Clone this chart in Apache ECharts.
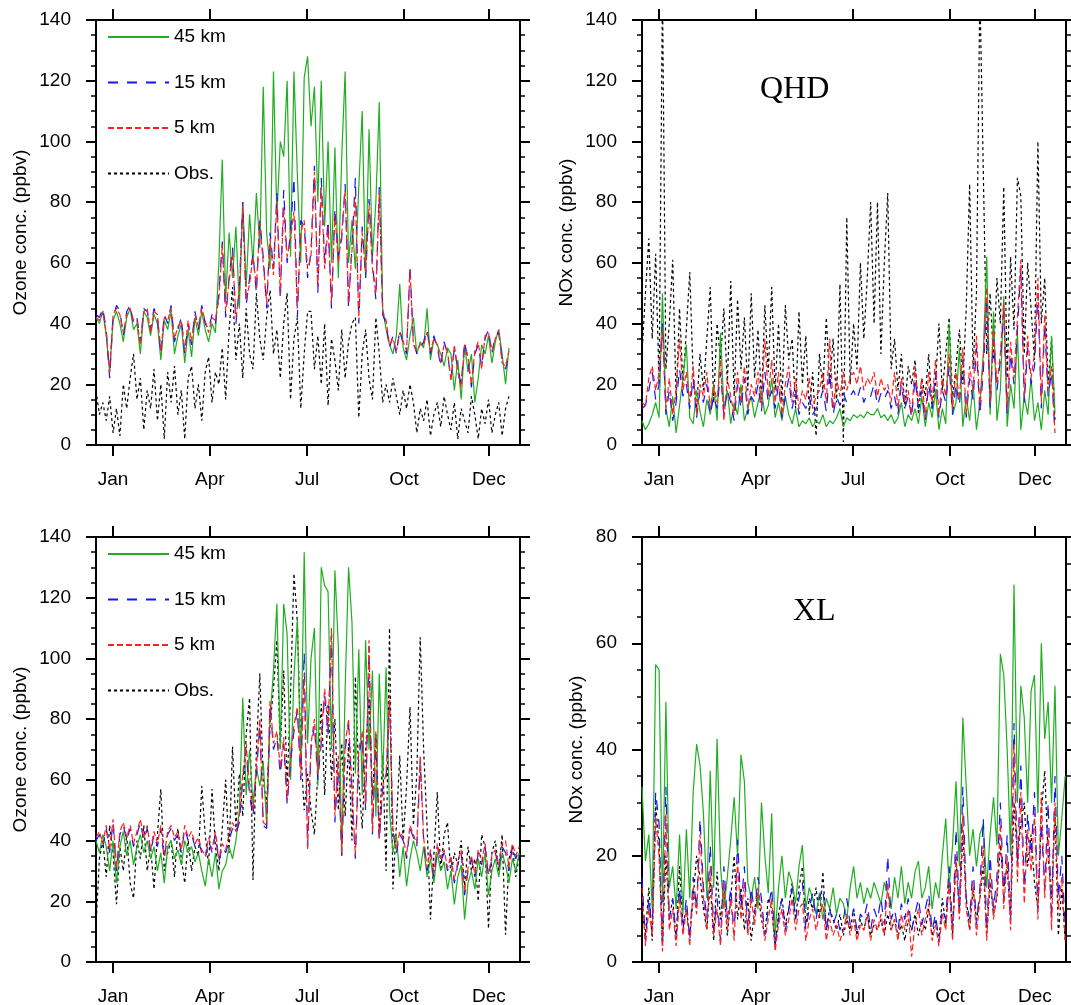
<!DOCTYPE html>
<html>
<head>
<meta charset="utf-8">
<script src="https://cdn.jsdelivr.net/npm/echarts@6/dist/echarts.min.js"></script>
<style>
    html, body {margin: 0; padding: 0; background: #fff;}
    #main {width: 1071px; height: 1005px;}
</style>
</head>
<body>
<div id="main"></div>
<script>
// one value every 3 days
const dayStep = 3;
const monthTicks = [15, 100, 185.5, 270.7, 345.4];
const monthLabels = ['Jan', 'Apr', 'Jul', 'Oct', 'Dec'];

// QHD ozone (top left)
const qhdO3_45km = [42, 40, 44, 36, 24, 41, 44, 40, 34, 42, 45, 38, 40, 30, 44, 42, 36, 43, 40, 28, 41, 38, 44, 30, 36, 40, 27, 38, 29, 42, 36, 44, 38, 34, 40, 37,
    60, 94, 48, 70, 55, 72, 45, 80, 52, 76, 60, 83, 65, 118, 70, 58, 123, 75, 100, 95, 120, 62, 123, 89, 60, 121, 128, 105, 118, 80, 120, 72, 100, 60, 98, 55, 95,
    123, 60, 74, 58, 85, 110, 55, 104, 62, 80, 113, 45,
    38, 33, 30, 36, 53, 32, 28, 36, 42, 30, 34, 32, 45, 28, 35, 33, 30, 26, 32, 30, 18, 28, 15, 33, 24, 30, 14, 22, 33, 30, 36, 27, 34, 38, 30, 20, 32];
const qhdO3_15km = [43, 42, 45, 38, 22, 42, 46, 44, 36, 44, 46, 40, 42, 34, 45, 44, 38, 45, 42, 30, 43, 40, 46, 34, 38, 42, 30, 40, 33, 44, 38, 46, 40, 38, 43, 40,
    50, 67, 42, 55, 65, 40, 52, 80, 46, 55, 63, 50, 74, 62, 45, 70, 58, 83, 48, 84, 60, 70, 88, 42, 74, 72, 55, 64, 92, 50, 88, 60, 74, 45, 78, 62, 68, 86, 45, 66, 88, 40, 72, 55, 81, 60, 48, 85, 43,
    40, 32, 36, 30, 38, 33, 30, 59, 34, 30, 32, 34, 38, 30, 36, 32, 26, 34, 30, 22, 32, 25, 20, 34, 28, 19, 30, 33, 26, 35, 38, 30, 36, 37, 28, 25, 30];
const qhdO3_5km = [42, 41, 44, 37, 24, 43, 45, 43, 37, 43, 45, 41, 41, 33, 44, 45, 37, 44, 43, 31, 42, 41, 45, 35, 39, 41, 31, 41, 34, 43, 39, 45, 41, 37, 42, 41,
    48, 66, 44, 54, 63, 42, 50, 79, 48, 53, 62, 52, 73, 60, 47, 68, 56, 80, 50, 78, 62, 68, 77, 45, 70, 74, 58, 62, 90, 52, 85, 58, 72, 47, 76, 60, 70, 84, 47, 64, 82, 42, 70, 57, 79, 58, 50, 83, 44,
    41, 33, 35, 31, 37, 34, 31, 58, 33, 31, 33, 33, 37, 31, 35, 33, 27, 33, 31, 21, 33, 24, 19, 33, 29, 20, 31, 34, 25, 36, 37, 31, 35, 38, 27, 26, 31];
const qhdO3_obs = [18, 10, 14, 8, 16, 4, 12, 3, 20, 12, 22, 30, 15, 22, 5, 18, 12, 25, 8, 20, 2, 24, 14, 26, 10, 18, 2, 22, 26, 12, 20, 8, 24, 29, 14, 24,
    20, 32, 15, 38, 52, 28, 40, 22, 45, 30, 25, 50, 35, 28, 42, 51, 30, 38, 22, 40, 50, 15, 35, 42, 12, 30, 44, 44, 25, 36, 20, 40, 13, 35, 28, 18, 38, 22, 34, 40, 42, 9, 30, 38, 22, 15, 42, 30, 14,
    20, 14, 22, 16, 10, 18, 12, 20, 14, 4, 12, 8, 15, 3, 10, 14, 6, 16, 10, 5, 14, 2, 12, 8, 4, 16, 10, 2, 12, 7, 15, 4, 10, 14, 3, 12, 16];

// QHD NOx (top right)
const qhdNOx_45km = [8, 5, 7, 10, 14, 9, 50, 12, 6, 16, 4, 13, 22, 33, 9, 7, 18, 11, 6, 15, 10, 20, 8, 37, 12, 18, 7, 14, 10, 20, 8, 12, 16, 9, 14, 18, 10, 13, 22, 9,
    14, 8, 16, 10, 7, 12, 6, 8, 7, 9, 6, 8, 7, 10, 6, 8, 7, 9, 12, 6, 9, 8, 10, 9, 10, 9, 11, 10, 10, 12, 9, 10, 8, 10, 7, 9, 14, 6, 10, 8,
    12, 7, 16, 6, 14, 9, 18, 5, 12, 7, 40, 10, 14, 32, 6, 16, 8, 20, 5, 14, 30, 62, 10, 44, 8, 18, 49, 6, 20, 12, 37, 5, 16, 10, 22, 8, 14, 5, 18, 10, 36, 11];
const qhdNOx_15km = [12, 13, 18, 24, 15, 20, 40, 10, 18, 8, 14, 25, 16, 20, 12, 22, 9, 18, 14, 20, 10, 16, 12, 24, 10, 18, 14, 8, 20, 12, 22, 10, 16, 14, 20, 11, 24, 14, 18, 12,
    20, 9, 16, 22, 12, 18, 10, 14, 12, 16, 10, 12, 14, 18, 11, 24, 10, 16, 13, 17, 14, 16, 18, 15, 19, 14, 17, 16, 20, 13, 17, 15, 18, 12, 16, 10, 20, 12, 16, 9,
    22, 12, 18, 8, 20, 12, 24, 9, 18, 14, 26, 10, 20, 13, 28, 9, 22, 15, 32, 10, 24, 48, 12, 35, 18, 28, 44, 10, 30, 20, 38, 58, 14, 32, 20, 26, 50, 12, 40, 16, 24, 4];
const qhdNOx_5km = [14, 13, 22, 26, 18, 24, 38, 12, 22, 10, 18, 35, 18, 24, 14, 26, 10, 20, 16, 24, 12, 20, 14, 28, 8, 22, 16, 10, 24, 14, 26, 12, 20, 16, 24, 13, 35, 16, 28, 14,
    24, 10, 20, 26, 14, 22, 12, 18, 15, 22, 12, 16, 18, 24, 14, 35, 12, 22, 16, 24, 18, 22, 24, 20, 26, 18, 22, 20, 24, 16, 22, 18, 20, 14, 24, 12, 22, 14, 18, 10,
    26, 14, 22, 9, 24, 14, 28, 10, 22, 16, 30, 12, 24, 15, 32, 10, 26, 18, 36, 12, 28, 52, 14, 38, 20, 30, 47, 12, 34, 22, 42, 61, 16, 36, 22, 30, 55, 14, 43, 18, 26, 4];
const qhdNOx_obs = [30, 50, 68, 35, 63, 20, 150, 25, 40, 61, 15, 45, 20, 38, 57, 22, 12, 30, 18, 35, 52, 14, 40, 28, 45, 20, 54, 16, 48, 25, 42, 18, 50, 22, 38, 15, 46, 24, 52, 18,
    40, 14, 46, 28, 35, 12, 44, 20, 36, 10, 24, 3, 30, 18, 42, 20, 35, 14, 53, 1, 75, 20, 40, 25, 60, 35, 55, 80, 40, 80, 30, 60, 83, 25, 35, 18, 30, 12, 26, 20,
    28, 10, 22, 16, 30, 12, 20, 40, 18, 30, 42, 15, 26, 38, 20, 45, 86, 25, 50, 150, 90, 30, 50, 28, 55, 40, 85, 22, 62, 38, 88, 82, 30, 60, 45, 28, 100, 40, 55, 20, 35, 8];

// XL ozone (bottom left)
const xlO3_45km = [40, 36, 42, 38, 30, 40, 26, 38, 43, 35, 40, 32, 38, 42, 36, 40, 34, 38, 30, 36, 26, 38, 40, 34, 37, 32, 40, 36, 38, 33, 36, 30, 25, 34, 28, 36, 24, 30, 32, 38, 34, 40,
    50, 87, 55, 70, 52, 64, 58, 66, 45, 80, 96, 118, 70, 118, 108, 60, 94, 113, 64, 135, 72, 100, 110, 58, 130, 124, 122, 70, 129, 104, 35, 90, 130, 112, 62, 103, 55, 106, 70, 96, 48, 95, 60, 97, 50,
    36, 42, 28, 38, 25, 34, 40, 36, 30, 38, 28, 34, 26, 36, 30, 33, 24, 30, 19, 28, 32, 14, 26, 30, 24, 34, 28, 36, 22, 30, 34, 28, 36, 32, 26, 34, 30, 36];
const xlO3_15km = [40, 42, 38, 44, 36, 46, 30, 42, 45, 40, 44, 38, 42, 46, 40, 44, 36, 42, 38, 44, 34, 42, 44, 40, 42, 36, 44, 40, 42, 38, 40, 36, 34, 40, 36, 42, 33, 38, 36, 40, 44, 42,
    46, 60, 70, 55, 48, 62, 78, 45, 44, 85, 70, 74, 62, 72, 52, 66, 76, 83, 60, 102, 38, 70, 78, 60, 72, 88, 75, 108, 46, 66, 35, 70, 78, 55, 34, 68, 74, 50, 104, 42, 74, 40, 57, 60, 86,
    43, 36, 42, 40, 34, 44, 41, 38, 66, 40, 30, 36, 28, 38, 33, 36, 30, 34, 26, 32, 36, 22, 30, 34, 28, 36, 32, 38, 28, 34, 36, 31, 38, 36, 30, 38, 34, 37];
const xlO3_5km = [41, 43, 39, 45, 37, 47, 31, 43, 46, 41, 45, 39, 43, 47, 41, 45, 37, 43, 39, 45, 35, 43, 45, 41, 43, 37, 45, 41, 43, 39, 41, 37, 35, 41, 37, 43, 34, 39, 37, 42, 46, 43,
    48, 62, 72, 57, 50, 64, 80, 46, 45, 86, 72, 76, 64, 74, 53, 68, 78, 84, 62, 95, 37, 72, 80, 62, 74, 90, 77, 110, 48, 68, 36, 72, 80, 57, 35, 70, 76, 52, 106, 43, 76, 41, 58, 62, 88,
    44, 37, 43, 41, 35, 45, 42, 39, 68, 41, 31, 37, 29, 39, 34, 37, 31, 35, 27, 33, 37, 23, 31, 35, 29, 37, 33, 39, 29, 35, 37, 32, 39, 40, 31, 39, 35, 38];
const xlO3_obs = [12, 34, 40, 28, 45, 36, 19, 38, 30, 42, 26, 21, 40, 34, 45, 30, 38, 24, 42, 57, 30, 36, 40, 28, 44, 34, 26, 40, 30, 38, 35, 58, 42, 32, 57, 38, 30, 44, 60, 36, 71, 44,
    62, 48, 75, 87, 27, 70, 95, 60, 52, 78, 90, 106, 70, 96, 58, 88, 128, 112, 70, 50, 62, 50, 42, 62, 85, 55, 85, 60, 80, 50, 72, 48, 72, 40, 94, 60, 44, 70, 87, 55, 75, 42, 68, 30, 110,
    24, 45, 68, 40, 58, 84, 45, 62, 107, 70, 45, 14, 35, 56, 30, 42, 46, 28, 36, 32, 40, 25, 38, 30, 34, 20, 42, 38, 11, 36, 40, 30, 42, 9, 34, 38, 28, 35];

// XL NOx (bottom right)
const xlNOx_45km = [33, 19, 24, 10, 56, 55, 11, 49, 14, 18, 10, 24, 9, 25, 12, 32, 41, 37, 28, 12, 36, 14, 42, 18, 10, 16, 23, 31, 20, 39, 34, 15, 12, 16, 10, 30, 20, 13, 28, 5,
    14, 20, 12, 17, 15, 11, 18, 22, 10, 14, 12, 9, 13, 8, 12, 10, 14, 9, 12, 11, 8, 14, 18, 12, 15, 11, 14, 12, 15, 13, 11, 15, 13, 10, 16, 12, 18, 11, 15, 12,
    17, 19, 12, 14, 18, 10, 15, 12, 20, 27, 14, 22, 34, 18, 46, 33, 20, 25, 18, 24, 26, 14, 24, 31, 22, 58, 54, 40, 20, 71, 30, 52, 46, 30, 51, 54, 28, 60, 42, 49, 30, 52, 20, 27, 35];
const xlNOx_15km = [16, 4, 12, 6, 32, 26, 3, 33, 8, 12, 5, 14, 6, 12, 4, 16, 10, 27, 14, 8, 22, 6, 12, 4, 18, 8, 14, 5, 23, 10, 18, 6, 14, 9, 16, 12, 5, 10, 14, 3,
    8, 12, 6, 10, 14, 8, 12, 15, 6, 10, 13, 8, 12, 14, 6, 10, 7, 9, 6, 8, 12, 7, 10, 6, 9, 8, 11, 6, 10, 8, 12, 7, 20, 8, 10, 6, 11, 8, 12, 6,
    9, 12, 7, 10, 13, 6, 9, 4, 10, 8, 18, 6, 25, 10, 33, 12, 8, 18, 7, 14, 27, 6, 20, 10, 16, 30, 12, 24, 8, 45, 18, 37, 14, 28, 20, 32, 10, 26, 14, 30, 8, 35, 12, 20, 6];
const xlNOx_5km = [14, 3, 10, 5, 27, 20, 2, 28, 6, 10, 3, 12, 5, 10, 3, 14, 9, 24, 12, 6, 18, 5, 10, 3, 15, 6, 12, 4, 19, 8, 15, 5, 12, 7, 14, 10, 4, 8, 12, 2,
    7, 10, 5, 8, 12, 6, 10, 11, 4, 8, 10, 6, 9, 11, 4, 8, 5, 7, 4, 6, 9, 5, 8, 4, 7, 6, 9, 4, 8, 6, 9, 5, 15, 6, 8, 4, 9, 6, 10, 1,
    7, 10, 5, 8, 11, 4, 7, 3, 9, 6, 15, 4, 20, 8, 28, 10, 6, 15, 5, 12, 22, 4, 17, 8, 13, 26, 10, 20, 6, 41, 15, 32, 11, 25, 17, 28, 8, 32, 12, 25, 6, 30, 10, 16, 4];
const xlNOx_obs = [10, 5, 14, 4, 30, 22, 3, 20, 8, 12, 4, 18, 7, 10, 5, 12, 20, 16, 10, 6, 15, 4, 17, 8, 14, 5, 12, 20, 8, 14, 6, 12, 4, 10, 13, 8, 5, 12, 10, 3,
    9, 12, 7, 10, 15, 8, 14, 18, 7, 12, 10, 14, 8, 17, 6, 10, 8, 6, 9, 5, 8, 6, 10, 5, 8, 6, 9, 5, 7, 6, 8, 5, 9, 6, 8, 5, 7, 4, 8, 6,
    9, 5, 8, 6, 10, 5, 8, 4, 12, 7, 16, 5, 20, 9, 24, 12, 6, 14, 8, 12, 18, 5, 15, 9, 12, 22, 14, 18, 8, 30, 20, 26, 30, 18, 24, 15, 10, 28, 36, 20, 12, 28, 5, 14, 4];

const X_MAX = 372.7;
const FONT = 'Liberation Sans';

const lineStyles = {
    '45 km': {color: '#1fae1f', type: 'solid'},
    '15 km': {color: '#1414ff', type: [10, 9]},
    '5 km': {color: '#ff1f1f', type: [6, 3]},
    'Obs.': {color: '#000000', type: [3, 3]},
};
const legendNames = ['45 km', '15 km', '5 km', 'Obs.'];

const panels = [
    {left: 96, top: 20, yMax: 140, name: 'Ozone conc. (ppbv)', nameGap: 66,
        data: {'Obs.': qhdO3_obs, '45 km': qhdO3_45km, '15 km': qhdO3_15km, '5 km': qhdO3_5km}},
    {left: 642, top: 20, yMax: 140, name: 'NOx conc. (ppbv)', nameGap: 66,
        data: {'Obs.': qhdNOx_obs, '45 km': qhdNOx_45km, '15 km': qhdNOx_15km, '5 km': qhdNOx_5km}},
    {left: 96, top: 537, yMax: 140, name: 'Ozone conc. (ppbv)', nameGap: 66,
        data: {'Obs.': xlO3_obs, '45 km': xlO3_45km, '15 km': xlO3_15km, '5 km': xlO3_5km}},
    {left: 642, top: 537, yMax: 80, name: 'NOx conc. (ppbv)', nameGap: 56,
        data: {'Obs.': xlNOx_obs, '45 km': xlNOx_45km, '15 km': xlNOx_15km, '5 km': xlNOx_5km}},
];

const axisLine = {show: true, onZero: false, lineStyle: {color: '#000', width: 2}};
const monthName = v => {
    let best = 0;
    monthTicks.forEach((t, i) => { if (Math.abs(t - v) < Math.abs(monthTicks[best] - v)) best = i; });
    return monthLabels[best];
};

let grid = [], xAxis = [], yAxis = [], series = [];
panels.forEach((p, k) => {
    // outerBoundsMode none: keep the grid where it is even if ticks run past the canvas
    grid.push({left: p.left, top: p.top, width: 424, height: 425, containLabel: false, outerBoundsMode: 'none'});
    // bottom and top x axes; the top one keeps empty labels so its ticks follow customValues
    ['bottom', 'top'].forEach(pos => {
        xAxis.push({
            gridIndex: k, type: 'value', min: 0, max: X_MAX, position: pos,
            axisLine: axisLine,
            axisTick: {show: true, customValues: monthTicks, length: 11, lineStyle: {color: '#000', width: 2}},
            axisLabel: {show: true, customValues: monthTicks,
                formatter: pos === 'bottom' ? monthName : () => '',
                margin: 25, fontSize: 19, fontFamily: FONT, color: '#000'},
            splitLine: {show: false},
        });
    });
    // left and right y axes
    ['left', 'right'].forEach(pos => {
        let ax = {
            gridIndex: k, type: 'value', min: 0, max: p.yMax, interval: 20, position: pos,
            axisLine: axisLine,
            axisTick: {show: true, length: 10, lineStyle: {color: '#000', width: 2}},
            minorTick: {show: true, splitNumber: 4, length: 5, lineStyle: {color: '#000', width: 1.5}},
            axisLabel: {show: pos === 'left', margin: 25, fontSize: 19, fontFamily: FONT, color: '#000'},
            splitLine: {show: false},
            minorSplitLine: {show: false},
        };
        if (pos === 'left') {
            ax.name = p.name;
            ax.nameLocation = 'middle';
            ax.nameRotate = 90;
            ax.nameGap = p.nameGap;
            ax.nameTextStyle = {fontSize: 19, fontFamily: FONT, color: '#000'};
        }
        yAxis.push(ax);
    });
    Object.keys(p.data).forEach(name => {
        series.push({
            name: name,
            type: 'line',
            xAxisIndex: 2 * k,
            yAxisIndex: 2 * k,
            symbol: 'none',
            showSymbol: false,
            clip: true,
            lineStyle: {width: 1.2, color: lineStyles[name].color, type: lineStyles[name].type},
            itemStyle: {color: lineStyles[name].color},
            data: p.data[name].map((v, i) => [i * dayStep, v]),
        });
    });
});

const legendBase = {
    data: legendNames, orient: 'vertical', left: 107, padding: 0,
    itemWidth: 61, itemHeight: 20, itemGap: 26.5, selectedMode: false,
    itemStyle: {opacity: 0},
    textStyle: {fontSize: 19, fontFamily: FONT, color: '#000'},
};

const titleStyle = {fontFamily: 'Liberation Serif', fontSize: 32, fontWeight: 'normal', color: '#000'};

const chart = echarts.init(document.getElementById('main'), null, {renderer: 'canvas'});
chart.setOption({
    animation: false,
    backgroundColor: '#fff',
    title: [
        {text: 'QHD', left: 760, top: 74, padding: 0, textStyle: titleStyle},
        {text: 'XL', left: 793, top: 596, padding: 0, textStyle: titleStyle},
    ],
    legend: [
        Object.assign({}, legendBase, {top: 27.5}),
        Object.assign({}, legendBase, {top: 544.5}),
    ],
    grid: grid,
    xAxis: xAxis,
    yAxis: yAxis,
    series: series,
});
</script>
</body>
</html>
